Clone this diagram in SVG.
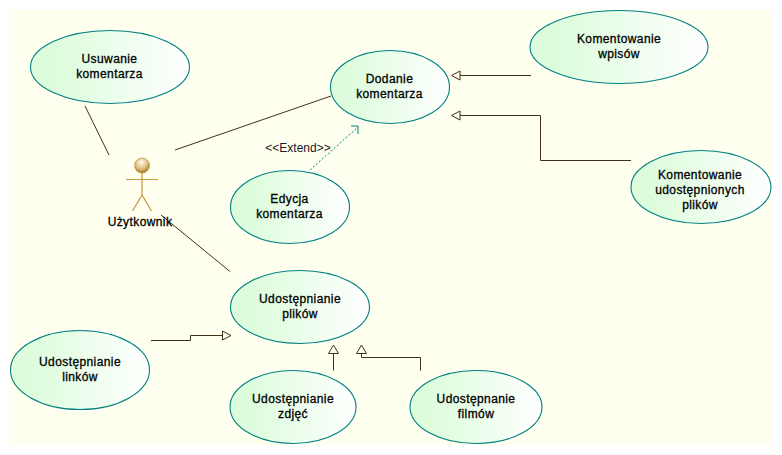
<svg xmlns="http://www.w3.org/2000/svg" width="782" height="455" viewBox="0 0 782 455">
<style>
text{font-family:"Liberation Sans",Arial,sans-serif;font-size:12px;text-anchor:middle;fill:#000}
.n{stroke:#000;stroke-width:0.3;letter-spacing:0.4px}
.u{fill:url(#g);stroke:#008080;stroke-width:1.1}
.c{fill:none;stroke:#40301a;stroke-width:1}
.h{fill:none;stroke:#40301a;stroke-width:1}
.a{fill:none;stroke:#c8963c;stroke-width:1.2}
</style>
<defs>
<linearGradient id="g" x1="0" y1="0" x2="1" y2="0">
<stop offset="0" stop-color="#dcfcdc"/><stop offset="0.15" stop-color="#dcfcdc"/><stop offset="1" stop-color="#ffffff"/>
</linearGradient>
<radialGradient id="b" cx="0.45" cy="0.3" r="0.7">
<stop offset="0" stop-color="#fff8e8"/><stop offset="0.55" stop-color="#e0c488"/><stop offset="1" stop-color="#a87818"/>
</radialGradient>
</defs>
<rect x="0" y="0" width="782" height="455" fill="#ffffff"/>
<rect x="10" y="10" width="762" height="435" fill="#fffff0"/>
<g id="connectors">
<path class="c" d="M85 106L109 155"/>
<path class="c" d="M175 150L331 96"/>
<path class="c" d="M161 215L230 271.5"/>
<path d="M310 170L358 127" fill="none" stroke="#008080" stroke-width="1" stroke-dasharray="2 2"/>
<path d="M351 126H358V134" fill="none" stroke="#008080" stroke-width="1"/>
<text x="298" y="151.5" style="fill:#1a1a1a">&lt;&lt;Extend&gt;&gt;</text>
<path class="c" d="M531 75.500H460"/>
<path class="h" d="M460 71L451.500 75.500L460 80Z"/>
<path class="c" d="M631 160.500H540.500V115.500H460"/>
<path class="h" d="M460 111L451.500 115.500L460 120Z"/>
<path class="c" d="M151 340.500H190.500V335.500H222"/>
<path class="h" d="M222.500 331L231 335.500L222.500 340Z"/>
<path class="c" d="M333.500 370.500V354"/>
<path class="h" d="M328.500 353.500L333.500 345L338.500 353.500Z"/>
<path class="c" d="M420.500 370.500V357.500H361.500V354"/>
<path class="h" d="M356.500 353.500L361.500 345L366.500 353.500Z"/>
</g>
<g id="usuwanie"><ellipse class="u" cx="110" cy="67" rx="79.500" ry="36.500"/><text class="n" x="109.500" y="63">Usuwanie</text><text class="n" x="109.500" y="78">komentarza</text></g>
<g id="dodanie"><ellipse class="u" cx="390" cy="87" rx="59.500" ry="36.500"/><text class="n" x="389.500" y="83">Dodanie</text><text class="n" x="389.500" y="98">komentarza</text></g>
<g id="edycja"><ellipse class="u" cx="290" cy="207" rx="59.500" ry="36.500"/><text class="n" x="289.500" y="203">Edycja</text><text class="n" x="289.500" y="218">komentarza</text></g>
<g id="wpisy"><ellipse class="u" cx="619" cy="47" rx="89" ry="36.500"/><text class="n" x="619" y="43">Komentowanie</text><text class="n" x="619" y="58">wpisów</text></g>
<g id="pliki-kom"><ellipse class="u" cx="701" cy="187" rx="70" ry="36.500"/><text class="n" x="700" y="179">Komentowanie</text><text class="n" x="700" y="194">udostępnionych</text><text class="n" x="700" y="209">plików</text></g>
<g id="linki"><ellipse class="u" cx="80" cy="370" rx="69.500" ry="39.500"/><text class="n" x="80" y="366">Udostępnianie</text><text class="n" x="80" y="381">linków</text></g>
<g id="pliki"><ellipse class="u" cx="300" cy="307" rx="69.500" ry="36.500"/><text class="n" x="300" y="303">Udostępnianie</text><text class="n" x="300" y="318">plików</text></g>
<g id="zdjecia"><ellipse class="u" cx="293" cy="407" rx="63" ry="36.500"/><text class="n" x="293" y="403">Udostępnianie</text><text class="n" x="293" y="418">zdjęć</text></g>
<g id="filmy"><ellipse class="u" cx="476" cy="407" rx="66" ry="36.500"/><text class="n" x="476" y="403">Udostępnanie</text><text class="n" x="476" y="418">filmów</text></g>
<g id="uzytkownik">
<path class="a" d="M142 173V195M126 179.500H158M142 195L132.500 211M142 195L151.500 211"/>
<circle cx="142" cy="165.500" r="7.500" fill="url(#b)" stroke="#b08428" stroke-width="0.6"/>
<text class="n" x="140" y="226">Użytkownik</text>
</g>
</svg>
